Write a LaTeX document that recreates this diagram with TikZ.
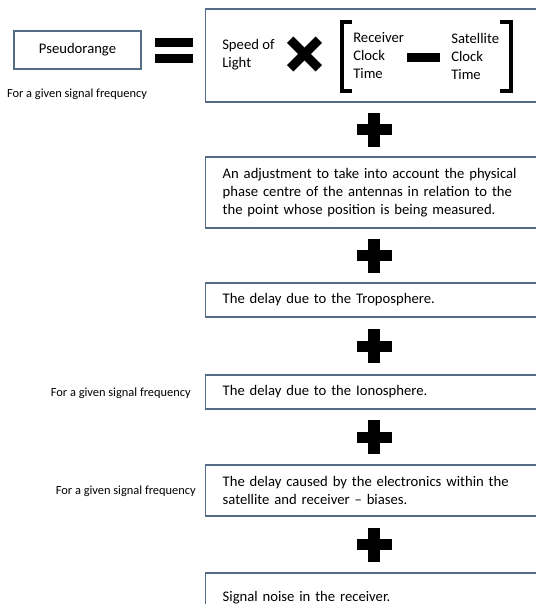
\documentclass[tikz,border=0pt]{standalone}
\usepackage{fontspec}
\setmainfont{Carlito}
\definecolor{boxline}{RGB}{84,108,134}
\tikzset{
  box/.style={draw=boxline, line width=1pt, rectangle, inner xsep=12.75pt, inner ysep=0pt,
    text width=300pt, align=left, anchor=west, font=\fontsize{11}{13.5}\selectfont},
  lbl/.style={inner sep=0pt, font=\fontsize{9.3}{11}\selectfont},
  txt/.style={inner sep=0pt, anchor=west, align=left, font=\fontsize{11}{13.5}\selectfont},
  bar/.style={fill=black, inner sep=0pt, rectangle},
  plussign/.pic={\fill (-17.5,-5.5) rectangle (17.5,5.5); \fill (-6,-17) rectangle (6,17);},
  timessign/.pic={\draw[line width=6.75pt] (-14.3,-14.3) -- (14.3,14.3); \draw[line width=6.75pt] (-14.3,14.3) -- (14.3,-14.3);}
}
\begin{document}
\begin{tikzpicture}[x=0.75pt,y=-0.75pt]
\useasboundingbox (0,0) rectangle (536,604);
\clip (0,0) rectangle (536,604);
\fill[white] (0,0) rectangle (536,604);

% left side
\node[draw=boxline, line width=1pt, minimum width=95.25pt, minimum height=28.5pt, inner sep=0pt,
  font=\fontsize{11}{13.5}\selectfont] (pr) at (77.5,50) {Pseudorange};
\node[lbl] (l1) at (77,94) {For a given signal frequency};
\node[bar, minimum width=28.5pt, minimum height=6.3pt] (eqa) at (174,42.5) {};
\node[bar, minimum width=28.5pt, minimum height=6.3pt] (eqb) at (174,58.5) {};

% box 1
\node[box, minimum height=69.75pt] (b1) at (205,55.5) {};
\node[txt] (sol) at (222,55) {Speed of\\Light};
\pic at (304.5,54) {timessign};
\draw[line width=3pt] (352,22) -- (342,22) -- (342,91) -- (352,91);
\draw[line width=3pt] (500,22) -- (510.5,22) -- (510.5,91) -- (500,91);
\node[txt] (rct) at (353,56) {Receiver\\Clock\\Time};
\node[bar, minimum width=24.75pt, minimum height=6.75pt] (minus) at (423.5,57.5) {};
\node[txt] (sct) at (451,56) {Satellite\\Clock\\Time};

\pic at (374,129.5) {plussign};
\node[box, minimum height=53.25pt] (b2) at (205,192.5) {An adjustment to take into account the physical\\phase centre of the antennas in relation to the\\the point whose position is being measured.};
\pic at (374,255.5) {plussign};
\node[box, minimum height=25.5pt] (b3) at (205,300) {The delay due to the Troposphere.};
\pic at (374,346) {plussign};
\node[box, minimum height=25.5pt] (b4) at (205,392) {The delay due to the Ionosphere.};
\node[lbl, anchor=east] (l2) at (191,393) {For a given signal frequency};
\pic at (374,437) {plussign};
\node[box, minimum height=38.25pt] (b5) at (205,490.5) {The delay caused by the electronics within the\\satellite and receiver -- biases.};
\node[lbl, anchor=east] (l3) at (196,491) {For a given signal frequency};
\pic at (374,544.5) {plussign};
\node[box, minimum height=37.5pt] (b6) at (205,598) {Signal noise in the receiver.};
\end{tikzpicture}
\end{document}
